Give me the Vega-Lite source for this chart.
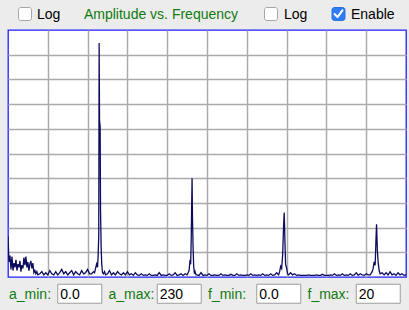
{
  "$schema": "https://vega.github.io/schema/vega-lite/v6.json",
  "background": "#ececec",
  "padding": {"left": 7, "right": 4, "top": 0, "bottom": 0},
  "spacing": 0,
  "bounds": "flush",
  "config": {
    "view": {"stroke": null},
    "font": "Liberation Sans",
    "text": {"font": "Liberation Sans", "fontSize": 14}
  },
  "vconcat": [
    {
      "width": 398,
      "height": 29.5,
      "data": {"values": [
        {"control": "a_log", "label": "Log", "checked": false},
        {"control": "title", "label": "Amplitude vs. Frequency", "checked": false},
        {"control": "f_log", "label": "Log", "checked": false},
        {"control": "enable", "label": "Enable", "checked": true}
      ]},
      "encoding": {
        "x": {"field": "control", "type": "nominal", "sort": null,
              "scale": {"type": "point", "domain": ["a_log", "title", "f_log", "enable"], "padding": 0.5},
              "axis": null}
      },
      "layer": [
        {"transform": [{"filter": "datum.control === 'a_log'"}],
         "mark": {"type": "point", "shape": "M-0.65,-1H0.65A0.35,0.35 0 0 1 1,-0.65V0.65A0.35,0.35 0 0 1 0.65,1H-0.65A0.35,0.35 0 0 1 -1,0.65V-0.65A0.35,0.35 0 0 1 -0.65,-1Z", "size": 169, "filled": true, "fill": "white", "stroke": "#a6a6a6", "strokeWidth": 1, "opacity": 1, "xOffset": -32.75, "yOffset": -0.75}},
        {"transform": [{"filter": "datum.control === 'f_log'"}],
         "mark": {"type": "point", "shape": "M-0.65,-1H0.65A0.35,0.35 0 0 1 1,-0.65V0.65A0.35,0.35 0 0 1 0.65,1H-0.65A0.35,0.35 0 0 1 -1,0.65V-0.65A0.35,0.35 0 0 1 -0.65,-1Z", "size": 169, "filled": true, "fill": "white", "stroke": "#a6a6a6", "strokeWidth": 1, "opacity": 1, "xOffset": 14.25, "yOffset": -0.75}},
        {"transform": [{"filter": "datum.control === 'enable' && datum.checked"}],
         "mark": {"type": "point", "shape": "M-0.65,-1H0.65A0.35,0.35 0 0 1 1,-0.65V0.65A0.35,0.35 0 0 1 0.65,1H-0.65A0.35,0.35 0 0 1 -1,0.65V-0.65A0.35,0.35 0 0 1 -0.65,-1Z", "size": 169, "filled": true, "fill": "#2f7cf6", "stroke": "#2a70e0", "strokeWidth": 1, "opacity": 1, "xOffset": -17.75, "yOffset": -0.75}},
        {"transform": [{"filter": "datum.control === 'enable' && datum.checked"}],
         "mark": {"type": "point", "shape": "M-0.6,0L-0.15,0.48L0.6,-0.55", "size": 169, "filled": false, "stroke": "white", "strokeWidth": 2, "opacity": 1, "strokeCap": "round", "strokeJoin": "round", "xOffset": -17.75, "yOffset": -0.75}},
        {"transform": [{"filter": "datum.control === 'a_log'"}],
         "mark": {"type": "text", "align": "left", "baseline": "alphabetic", "dx": -20.75, "dy": 4.5, "color": "black", "fontSize": 14},
         "encoding": {"text": {"field": "label"}}},
        {"transform": [{"filter": "datum.control === 'f_log'"}],
         "mark": {"type": "text", "align": "left", "baseline": "alphabetic", "dx": 27.25, "dy": 4.5, "color": "black", "fontSize": 14},
         "encoding": {"text": {"field": "label"}}},
        {"transform": [{"filter": "datum.control === 'enable'"}],
         "mark": {"type": "text", "align": "left", "baseline": "alphabetic", "dx": -5.25, "dy": 4.5, "color": "black", "fontSize": 14},
         "encoding": {"text": {"field": "label"}}},
        {"transform": [{"filter": "datum.control === 'title'"}],
         "mark": {"type": "text", "align": "center", "baseline": "alphabetic", "dx": 3.75, "dy": 4.5, "color": "#117a11", "fontSize": 14},
         "encoding": {"text": {"field": "label"}}}
      ]
    },
    {
      "width": 398,
      "height": 247,
      "view": {"stroke": "#1f1fff", "strokeWidth": 1.3, "fill": "white"},
      "data": {"values": [
        {"f": 0, "a": 38}, {"f": 0.05, "a": 14}, {"f": 0.1, "a": 20}, {"f": 0.15, "a": 7}, {"f": 0.2, "a": 19},
        {"f": 0.25, "a": 6}, {"f": 0.3, "a": 13}, {"f": 0.35, "a": 9}, {"f": 0.4, "a": 16}, {"f": 0.45, "a": 6},
        {"f": 0.5, "a": 12}, {"f": 0.55, "a": 9}, {"f": 0.6, "a": 15}, {"f": 0.65, "a": 5}, {"f": 0.7, "a": 11},
        {"f": 0.75, "a": 8}, {"f": 0.8, "a": 18}, {"f": 0.85, "a": 11}, {"f": 0.9, "a": 19}, {"f": 0.95, "a": 9},
        {"f": 1.0, "a": 14}, {"f": 1.05, "a": 6}, {"f": 1.1, "a": 12}, {"f": 1.15, "a": 15}, {"f": 1.2, "a": 8},
        {"f": 1.25, "a": 13}, {"f": 1.3, "a": 4}, {"f": 1.35, "a": 6}, {"f": 1.4, "a": 3}, {"f": 1.45, "a": 5},
        {"f": 1.5, "a": 2}, {"f": 1.6, "a": 3}, {"f": 1.7, "a": 5}, {"f": 1.8, "a": 2}, {"f": 1.9, "a": 4},
        {"f": 2.0, "a": 2}, {"f": 2.1, "a": 6}, {"f": 2.2, "a": 3}, {"f": 2.3, "a": 2}, {"f": 2.4, "a": 5},
        {"f": 2.5, "a": 2}, {"f": 2.6, "a": 4}, {"f": 2.7, "a": 7}, {"f": 2.8, "a": 3}, {"f": 2.9, "a": 5},
        {"f": 3.0, "a": 2}, {"f": 3.1, "a": 4}, {"f": 3.2, "a": 6}, {"f": 3.3, "a": 2}, {"f": 3.4, "a": 5},
        {"f": 3.5, "a": 3}, {"f": 3.6, "a": 2}, {"f": 3.7, "a": 6}, {"f": 3.8, "a": 3}, {"f": 3.9, "a": 4},
        {"f": 4.0, "a": 7}, {"f": 4.1, "a": 3}, {"f": 4.2, "a": 3}, {"f": 4.3, "a": 5}, {"f": 4.35, "a": 4},
        {"f": 4.4, "a": 8}, {"f": 4.45, "a": 12}, {"f": 4.5, "a": 9}, {"f": 4.53, "a": 20}, {"f": 4.56, "a": 38},
        {"f": 4.58, "a": 218}, {"f": 4.6, "a": 146}, {"f": 4.63, "a": 140}, {"f": 4.65, "a": 62}, {"f": 4.68, "a": 28},
        {"f": 4.71, "a": 12}, {"f": 4.75, "a": 4}, {"f": 4.8, "a": 3}, {"f": 4.85, "a": 5}, {"f": 4.9, "a": 2},
        {"f": 5.0, "a": 3}, {"f": 5.1, "a": 6}, {"f": 5.2, "a": 2}, {"f": 5.3, "a": 4}, {"f": 5.4, "a": 2},
        {"f": 5.5, "a": 5}, {"f": 5.6, "a": 3}, {"f": 5.7, "a": 2}, {"f": 5.8, "a": 4}, {"f": 5.9, "a": 2},
        {"f": 6.0, "a": 5}, {"f": 6.1, "a": 2}, {"f": 6.2, "a": 3}, {"f": 6.3, "a": 1.5}, {"f": 6.4, "a": 4},
        {"f": 6.5, "a": 2}, {"f": 6.6, "a": 1.5}, {"f": 6.7, "a": 3}, {"f": 6.8, "a": 1.5}, {"f": 6.9, "a": 2},
        {"f": 7.0, "a": 1.5}, {"f": 7.1, "a": 3}, {"f": 7.2, "a": 1.5}, {"f": 7.3, "a": 1.5}, {"f": 7.4, "a": 2},
        {"f": 7.5, "a": 1.5}, {"f": 7.6, "a": 4}, {"f": 7.7, "a": 1.5}, {"f": 7.8, "a": 2}, {"f": 7.9, "a": 1.5},
        {"f": 8.0, "a": 1.5}, {"f": 8.1, "a": 3}, {"f": 8.2, "a": 1.5}, {"f": 8.3, "a": 2}, {"f": 8.4, "a": 4},
        {"f": 8.5, "a": 1.5}, {"f": 8.6, "a": 2}, {"f": 8.7, "a": 3}, {"f": 8.8, "a": 1.5}, {"f": 8.9, "a": 3},
        {"f": 9.0, "a": 2}, {"f": 9.05, "a": 4}, {"f": 9.1, "a": 6}, {"f": 9.15, "a": 16}, {"f": 9.18, "a": 12},
        {"f": 9.21, "a": 38}, {"f": 9.23, "a": 67}, {"f": 9.25, "a": 92}, {"f": 9.27, "a": 56}, {"f": 9.3, "a": 28},
        {"f": 9.33, "a": 10}, {"f": 9.37, "a": 3}, {"f": 9.4, "a": 5}, {"f": 9.45, "a": 2},
        {"f": 9.5, "a": 2}, {"f": 9.6, "a": 1.5}, {"f": 9.7, "a": 4}, {"f": 9.8, "a": 1.5}, {"f": 9.9, "a": 2},
        {"f": 10.0, "a": 1.5}, {"f": 10.1, "a": 3}, {"f": 10.2, "a": 1.5}, {"f": 10.3, "a": 1.5}, {"f": 10.4, "a": 2},
        {"f": 10.5, "a": 1.5}, {"f": 10.6, "a": 1.5}, {"f": 10.7, "a": 3}, {"f": 10.8, "a": 1.5}, {"f": 10.9, "a": 2},
        {"f": 11.0, "a": 1.5}, {"f": 11.1, "a": 1.5}, {"f": 11.2, "a": 2.5}, {"f": 11.3, "a": 1.5}, {"f": 11.4, "a": 1.5},
        {"f": 11.5, "a": 3}, {"f": 11.6, "a": 1.5}, {"f": 11.7, "a": 2}, {"f": 11.8, "a": 1.5}, {"f": 11.9, "a": 1.5},
        {"f": 12.0, "a": 2}, {"f": 12.1, "a": 1.5}, {"f": 12.2, "a": 3}, {"f": 12.3, "a": 1.5}, {"f": 12.4, "a": 2},
        {"f": 12.5, "a": 1.5}, {"f": 12.6, "a": 2}, {"f": 12.7, "a": 1.5}, {"f": 12.8, "a": 3}, {"f": 12.9, "a": 1.5},
        {"f": 13.0, "a": 2}, {"f": 13.1, "a": 1.5}, {"f": 13.2, "a": 3}, {"f": 13.3, "a": 1.5}, {"f": 13.4, "a": 2},
        {"f": 13.5, "a": 4}, {"f": 13.6, "a": 2}, {"f": 13.65, "a": 5}, {"f": 13.7, "a": 10}, {"f": 13.75, "a": 8},
        {"f": 13.8, "a": 20}, {"f": 13.85, "a": 48}, {"f": 13.88, "a": 60}, {"f": 13.92, "a": 30}, {"f": 13.95, "a": 12},
        {"f": 14.0, "a": 8}, {"f": 14.05, "a": 3}, {"f": 14.1, "a": 2}, {"f": 14.2, "a": 4}, {"f": 14.3, "a": 2},
        {"f": 14.4, "a": 3}, {"f": 14.5, "a": 1.5}, {"f": 14.6, "a": 2}, {"f": 14.7, "a": 1.5}, {"f": 14.8, "a": 1.5},
        {"f": 14.9, "a": 1.5}, {"f": 15.0, "a": 1.5}, {"f": 15.1, "a": 2}, {"f": 15.2, "a": 1.5}, {"f": 15.3, "a": 1.5},
        {"f": 15.4, "a": 1.5}, {"f": 15.5, "a": 2}, {"f": 15.6, "a": 1.5}, {"f": 15.7, "a": 1.5}, {"f": 15.8, "a": 2.5},
        {"f": 15.9, "a": 1.5}, {"f": 16.0, "a": 1.5}, {"f": 16.1, "a": 1.5}, {"f": 16.2, "a": 2}, {"f": 16.3, "a": 1.5},
        {"f": 16.4, "a": 3}, {"f": 16.5, "a": 1.5}, {"f": 16.6, "a": 2}, {"f": 16.7, "a": 1.5}, {"f": 16.8, "a": 3},
        {"f": 16.9, "a": 1.5}, {"f": 17.0, "a": 2}, {"f": 17.1, "a": 1.5}, {"f": 17.2, "a": 3}, {"f": 17.3, "a": 1.5},
        {"f": 17.4, "a": 2}, {"f": 17.5, "a": 4}, {"f": 17.6, "a": 1.5}, {"f": 17.7, "a": 3}, {"f": 17.8, "a": 2},
        {"f": 17.9, "a": 1.5}, {"f": 18.0, "a": 3}, {"f": 18.1, "a": 2}, {"f": 18.2, "a": 2}, {"f": 18.3, "a": 5},
        {"f": 18.35, "a": 8}, {"f": 18.4, "a": 14}, {"f": 18.45, "a": 11}, {"f": 18.49, "a": 34}, {"f": 18.52, "a": 49},
        {"f": 18.56, "a": 25}, {"f": 18.6, "a": 14}, {"f": 18.65, "a": 6}, {"f": 18.7, "a": 3}, {"f": 18.8, "a": 4},
        {"f": 18.9, "a": 2}, {"f": 19.0, "a": 4}, {"f": 19.1, "a": 2}, {"f": 19.2, "a": 5}, {"f": 19.3, "a": 2},
        {"f": 19.4, "a": 3}, {"f": 19.5, "a": 1.5}, {"f": 19.6, "a": 4}, {"f": 19.7, "a": 2}, {"f": 19.8, "a": 3},
        {"f": 19.9, "a": 1.5}, {"f": 20.0, "a": 2}
      ]},
      "mark": {"type": "line", "color": "#0c0c5e", "strokeWidth": 1.3, "clip": true, "interpolate": "linear"},
      "encoding": {
        "x": {"field": "f", "type": "quantitative",
              "scale": {"domain": [0, 20], "nice": false, "zero": false},
              "axis": {"values": [2, 4, 6, 8, 10, 12, 14, 16, 18], "grid": true, "labels": false, "ticks": false, "domain": false, "title": null, "gridColor": "#ababab", "gridWidth": 1.5, "gridOpacity": 1}},
        "y": {"field": "a", "type": "quantitative",
              "scale": {"domain": [0, 230], "nice": false, "zero": true},
              "axis": {"values": [23, 46, 69, 92, 115, 138, 161, 184, 207], "grid": true, "labels": false, "ticks": false, "domain": false, "title": null, "gridColor": "#ababab", "gridWidth": 1.5, "gridOpacity": 1}}
      }
    },
    {
      "width": 398,
      "height": 33.5,
      "data": {"values": [
        {"param": "a_min:", "value": "0.0"},
        {"param": "a_max:", "value": "230"},
        {"param": "f_min:", "value": "0.0"},
        {"param": "f_max:", "value": "20"}
      ]},
      "encoding": {
        "x": {"field": "param", "type": "nominal", "sort": null,
              "scale": {"type": "band", "paddingInner": 0, "paddingOuter": 0},
              "axis": null}
      },
      "layer": [
        {"mark": {"type": "point", "shape": "M-1,-0.432H1V0.432H-1Z", "size": 1936, "filled": true, "fill": "white", "stroke": "#9d9d9d", "strokeWidth": 1, "opacity": 1, "xOffset": 22, "yOffset": 0}},
        {"mark": {"type": "text", "align": "left", "baseline": "alphabetic", "dx": -48.75, "dy": 5.5, "color": "#117a11", "fontSize": 14},
         "encoding": {"text": {"field": "param"}}},
        {"mark": {"type": "text", "align": "left", "baseline": "alphabetic", "dx": 2.5, "dy": 5.5, "color": "black", "fontSize": 14},
         "encoding": {"text": {"field": "value"}}}
      ]
    }
  ]
}
